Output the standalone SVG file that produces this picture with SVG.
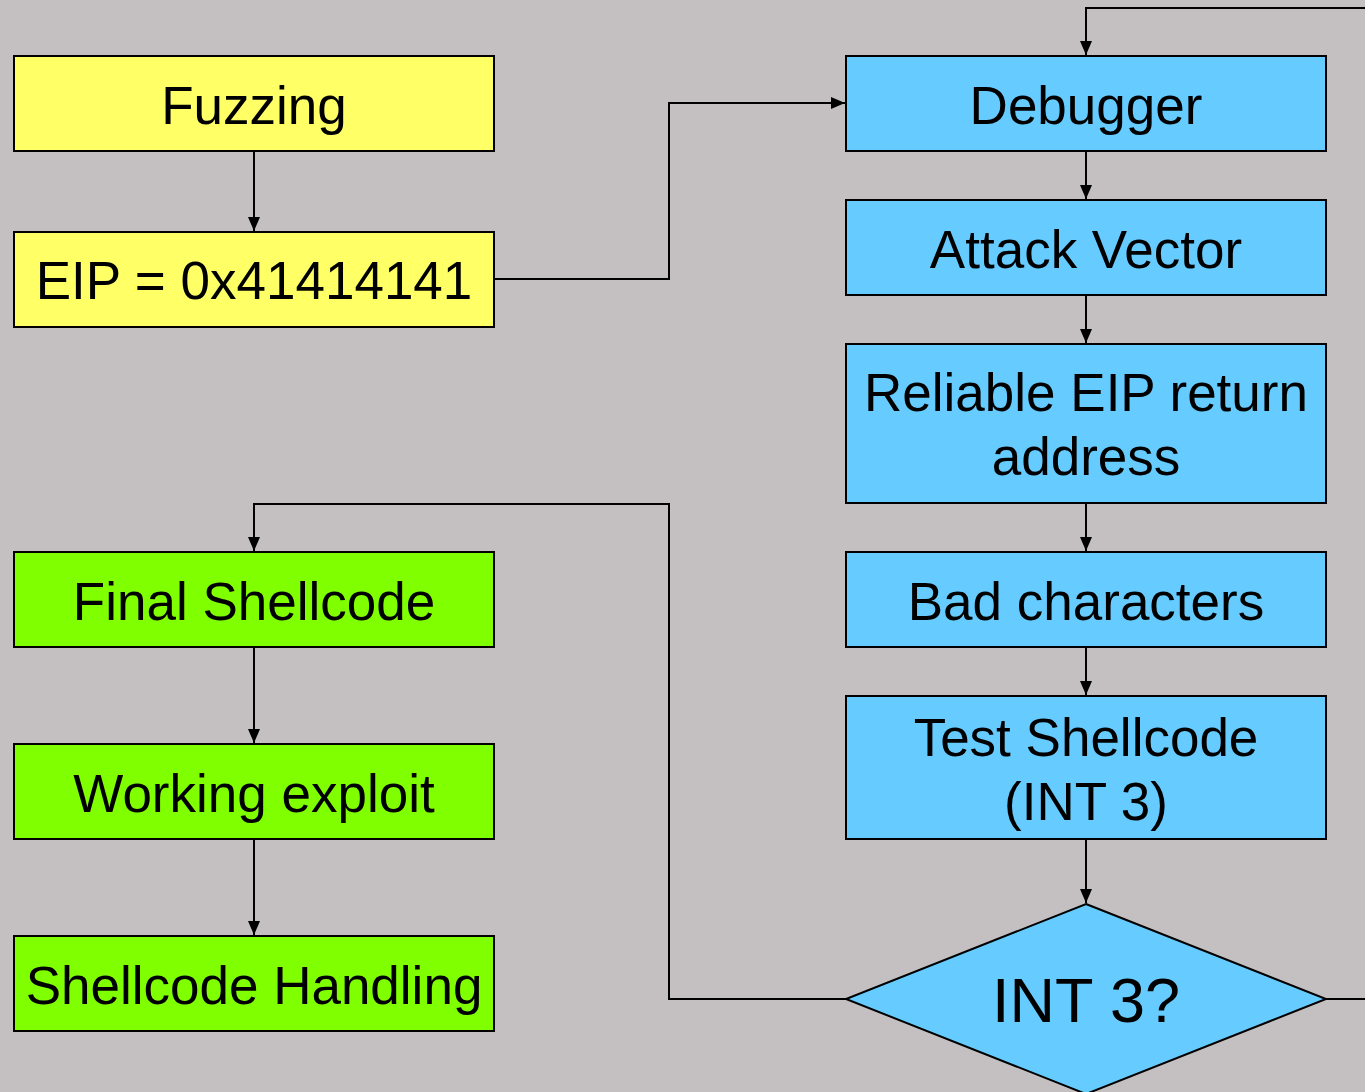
<svg xmlns="http://www.w3.org/2000/svg" width="1365" height="1092" viewBox="0 0 1365 1092">
<style>
.box{stroke:#000;stroke-width:2}
.y{fill:#FFFF66}.b{fill:#66CCFF}.g{fill:#80FF00}
.t{font-family:"Liberation Sans",Arial,sans-serif;font-size:53px;fill:#000;text-anchor:middle}
.c{fill:none;stroke:#000;stroke-width:2}
</style>
<defs>
<marker id="a" viewBox="0 0 14 12" refX="14" refY="6" markerWidth="14" markerHeight="12" markerUnits="userSpaceOnUse" orient="auto"><path d="M0,0L14,6L0,12z" fill="#000"/></marker>
</defs>
<rect width="1365" height="1092" fill="#C4C0C1"/>
<g id="connectors">
<path class="c" d="M254,151V231" marker-end="url(#a)"/>
<path class="c" d="M494,279H669V103H845" marker-end="url(#a)"/>
<path class="c" d="M1086,151V199" marker-end="url(#a)"/>
<path class="c" d="M1086,295V343" marker-end="url(#a)"/>
<path class="c" d="M1086,503V551" marker-end="url(#a)"/>
<path class="c" d="M1086,647V695" marker-end="url(#a)"/>
<path class="c" d="M1086,839V903" marker-end="url(#a)"/>
<path class="c" d="M1326,999H1367V8H1086V55" marker-end="url(#a)"/>
<path class="c" d="M846,999H669V504H254V551" marker-end="url(#a)"/>
<path class="c" d="M254,647V743" marker-end="url(#a)"/>
<path class="c" d="M254,839V935" marker-end="url(#a)"/>
</g>
<g id="fuzzing"><rect class="box y" x="14" y="56" width="480" height="95"/><text class="t" x="254" y="124">Fuzzing</text></g>
<g id="eip"><rect class="box y" x="14" y="232" width="480" height="95"/><text class="t" x="254" y="299">EIP = 0x41414141</text></g>
<g id="debugger"><rect class="box b" x="846" y="56" width="480" height="95"/><text class="t" x="1086" y="124">Debugger</text></g>
<g id="attack"><rect class="box b" x="846" y="200" width="480" height="95"/><text class="t" x="1086" y="268">Attack Vector</text></g>
<g id="reliable"><rect class="box b" x="846" y="344" width="480" height="159"/><text class="t" x="1086" y="411">Reliable EIP return</text><text class="t" x="1086" y="475">address</text></g>
<g id="bad"><rect class="box b" x="846" y="552" width="480" height="95"/><text class="t" x="1086" y="620">Bad characters</text></g>
<g id="test"><rect class="box b" x="846" y="696" width="480" height="143"/><text class="t" x="1086" y="756">Test Shellcode</text><text class="t" x="1086" y="820">(INT 3)</text></g>
<g id="int3"><path class="box b" d="M1086,904L1326,999L1086,1094L846,999z"/><text class="t" x="1086" y="1022" style="font-size:63px">INT 3?</text></g>
<g id="final"><rect class="box g" x="14" y="552" width="480" height="95"/><text class="t" x="254" y="620">Final Shellcode</text></g>
<g id="working"><rect class="box g" x="14" y="744" width="480" height="95"/><text class="t" x="254" y="812">Working exploit</text></g>
<g id="handling"><rect class="box g" x="14" y="936" width="480" height="95"/><text class="t" x="254" y="1004">Shellcode Handling</text></g>
</svg>
